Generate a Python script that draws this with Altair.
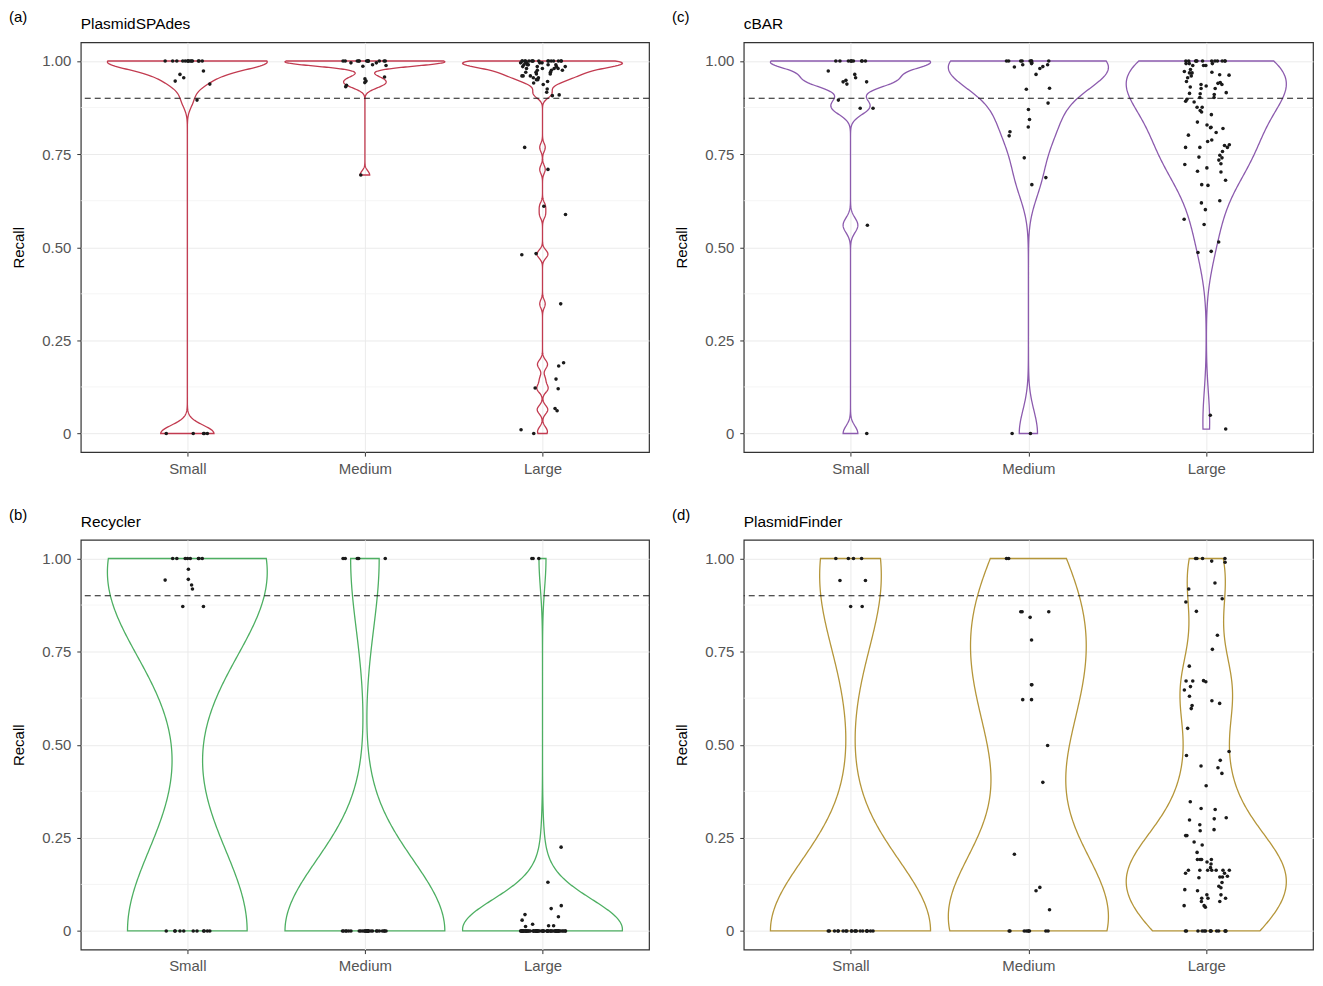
import altair as alt
import pandas as pd

FONT = "Liberation Sans"
SIZES = ["Small", "Medium", "Large"]
THRESHOLD = [0.9]
MAJOR = [0, 0.25, 0.5, 0.75, 1.0]
MINOR = [0.125, 0.375, 0.625, 0.875]

# ---- PlasmidSPAdes ----
spades_small = [1.0, 1.0, 1.0, 1.0, 1.0, 1.0, 1.0, 1.0, 1.0, 1.0, 1.0, 1.0, 1.0, 1.0,
                0.973, 0.964, 0.955, 0.946, 0.938, 0.895,
                0.0, 0.0, 0.0, 0.0, 0.0]
spades_medium = [1.0, 1.0, 1.0, 1.0, 1.0, 1.0, 1.0, 1.0, 1.0, 1.0, 1.0, 1.0, 1.0,
                 0.995, 0.995, 0.99, 0.988, 0.986,
                 0.957, 0.952, 0.946, 0.942, 0.935, 0.931, 0.694]
spades_large = [1.0, 1.0, 1.0, 1.0, 1.0, 1.0, 1.0, 1.0, 1.0, 1.0, 1.0, 1.0, 1.0, 1.0, 1.0, 1.0,
                0.995, 0.995, 0.995, 0.995, 0.995, 0.99, 0.99, 0.99, 0.99, 0.99,
                0.985, 0.985, 0.985, 0.985, 0.98, 0.98, 0.98, 0.98,
                0.975, 0.975, 0.975, 0.97, 0.97, 0.97, 0.965, 0.965,
                0.96, 0.96, 0.96, 0.955, 0.955, 0.95, 0.95,
                0.945, 0.941, 0.937, 0.925, 0.916, 0.909, 0.907,
                0.768, 0.709, 0.610, 0.588, 0.483, 0.480, 0.348, 0.190, 0.181,
                0.146, 0.122, 0.120, 0.067, 0.061, 0.010, 0.0]

# ---- cBAR ----
cbar_small = [1.0, 1.0, 1.0, 1.0, 1.0, 1.0, 1.0, 1.0, 1.0, 1.0,
              0.973, 0.964, 0.955, 0.948, 0.944, 0.944, 0.938, 0.895, 0.873, 0.873,
              0.559, 0.0]
cbar_medium = [1.0, 1.0, 1.0, 1.0, 1.0, 1.0, 1.0, 1.0,
               0.995, 0.993, 0.99, 0.99, 0.985, 0.984, 0.98, 0.964,
               0.927, 0.924, 0.887, 0.870, 0.843, 0.823, 0.810, 0.799,
               0.740, 0.687, 0.668, 0.0, 0.0]
cbar_large = [1.0, 1.0, 1.0, 1.0, 1.0, 1.0, 1.0, 1.0, 1.0, 1.0, 1.0, 1.0,
              0.993, 0.993, 0.993, 0.988, 0.988, 0.988,
              0.977, 0.972, 0.968, 0.970, 0.963, 0.968, 0.960, 0.955, 0.962,
              0.945, 0.942, 0.937, 0.940, 0.937, 0.933, 0.930,
              0.926, 0.926, 0.915, 0.913, 0.910, 0.902, 0.912, 0.902,
              0.897, 0.892, 0.890, 0.876, 0.876, 0.867,
              0.863, 0.856, 0.836, 0.828, 0.822, 0.821, 0.819, 0.808, 0.801,
              0.788, 0.784, 0.775, 0.768, 0.768, 0.773, 0.768, 0.757,
              0.747, 0.742, 0.740, 0.734, 0.724, 0.722, 0.704, 0.713, 0.702,
              0.680, 0.668, 0.666, 0.625, 0.619, 0.601, 0.575, 0.561,
              0.514, 0.489, 0.486, 0.049, 0.012]

# ---- Recycler ----
recycler_small = [1.0, 1.0, 1.0, 1.0, 1.0, 1.0, 1.0, 1.0,
                  0.971, 0.944, 0.942, 0.929, 0.918, 0.871, 0.871,
                  0.0, 0.0, 0.0, 0.0, 0.0, 0.0, 0.0, 0.0, 0.0, 0.0, 0.0]
recycler_medium = [1.0, 1.0, 1.0, 1.0, 1.0,
                   0.0, 0.0, 0.0, 0.0, 0.0, 0.0, 0.0, 0.0, 0.0, 0.0,
                   0.0, 0.0, 0.0, 0.0, 0.0, 0.0, 0.0, 0.0, 0.0, 0.0,
                   0.0, 0.0, 0.0, 0.0, 0.0, 0.0, 0.0, 0.0]
recycler_large = [1.0, 1.0, 1.0, 0.225, 0.131, 0.068, 0.060, 0.044, 0.038, 0.029,
                  0.018, 0.014, 0.014, 0.012,
                  0.0, 0.0, 0.0, 0.0, 0.0, 0.0, 0.0, 0.0, 0.0, 0.0,
                  0.0, 0.0, 0.0, 0.0, 0.0, 0.0, 0.0, 0.0, 0.0, 0.0,
                  0.0, 0.0, 0.0, 0.0, 0.0, 0.0, 0.0, 0.0, 0.0, 0.0,
                  0.0, 0.0, 0.0, 0.0, 0.0, 0.0, 0.0, 0.0, 0.0, 0.0,
                  0.0, 0.0, 0.0, 0.0, 0.0, 0.0, 0.0, 0.0, 0.0, 0.0,
                  0.0, 0.0, 0.0, 0.0, 0.0, 0.0, 0.0, 0.0, 0.0, 0.0]

# ---- PlasmidFinder ----
finder_small = [1.0, 1.0, 1.0, 1.0, 0.941, 0.941, 0.871, 0.871,
                0.0, 0.0, 0.0, 0.0, 0.0, 0.0, 0.0, 0.0, 0.0, 0.0,
                0.0, 0.0, 0.0, 0.0, 0.0, 0.0, 0.0, 0.0, 0.0, 0.0]
finder_medium = [1.0, 1.0, 0.857, 0.857, 0.857, 0.842, 0.781, 0.661, 0.661,
                 0.621, 0.621, 0.498, 0.399, 0.206, 0.117, 0.108, 0.057,
                 0.0, 0.0, 0.0, 0.0, 0.0, 0.0, 0.0, 0.0, 0.0]
finder_large = [1.0, 1.0, 1.0, 1.0, 0.993, 0.99, 0.934, 0.918, 0.892, 0.883,
                0.858, 0.794, 0.756, 0.711, 0.671, 0.671, 0.669, 0.672, 0.656,
                0.647, 0.630, 0.618, 0.611, 0.605, 0.597,
                0.544, 0.482, 0.471, 0.458, 0.443, 0.438, 0.423, 0.390,
                0.347, 0.329, 0.326, 0.304, 0.298, 0.301, 0.285, 0.269, 0.272,
                0.256, 0.256, 0.239, 0.231, 0.211,
                0.192, 0.192, 0.192, 0.192, 0.185, 0.180, 0.170,
                0.163, 0.163, 0.163, 0.163, 0.163, 0.163, 0.163, 0.155, 0.155,
                0.147, 0.145, 0.145, 0.143, 0.130, 0.120,
                0.116, 0.111, 0.108, 0.097, 0.097, 0.088, 0.088, 0.088, 0.079, 0.079,
                0.064, 0.068, 0.068,
                0.0, 0.0, 0.0, 0.0, 0.0, 0.0, 0.0, 0.0, 0.0, 0.0, 0.0, 0.0, 0.0, 0.0]

# kernel bandwidths per violin (Small, Medium, Large)
bw_spades = [0.022, 0.011, 0.011]
bw_cbar = [0.02, 0.062, 0.08]
bw_recycler = [0.227, 0.19, 0.08]
bw_finder = [0.19, 0.18, 0.097]

COL_SPADES = "#C23B50"
COL_CBAR = "#8C5BAE"
COL_RECYCLER = "#4DAF62"
COL_FINDER = "#B5963A"

xscale = alt.Scale(domain=[0.4, 3.6], nice=False, zero=False)
yscale = alt.Scale(domain=[-0.05, 1.05], nice=False, zero=False)

label_expr_x = "['', '%s', '%s', '%s'][datum.value]" % tuple(SIZES)
xaxis = alt.Axis(values=[1, 2, 3], labelExpr=label_expr_x, title=None, grid=True,
                 gridColor="#ebebeb", gridWidth=1, domain=False, ticks=True,
                 tickColor="#333333", tickSize=4, tickWidth=1, labelColor="#555555",
                 labelFontSize=15, labelFont=FONT, labelPadding=5)
yaxis = alt.Axis(values=MAJOR, labelExpr="datum.value == 0 ? '0' : format(datum.value, '.2f')",
                 title="Recall", grid=True, gridColor="#ebebeb", gridWidth=1, domain=False,
                 ticks=True, tickColor="#333333", tickSize=4, tickWidth=1,
                 labelColor="#555555", labelFontSize=15, labelFont=FONT, labelPadding=6,
                 titleFont=FONT, titleFontSize=15, titleFontWeight="normal",
                 titleColor="black", titlePadding=15)


def make_panel(letter, title, color, series, bws, width, height):
    rows = []
    for gi, (name, vals) in enumerate(zip(SIZES, series), start=1):
        for i, v in enumerate(vals):
            rows.append({"size": name, "pos": gi, "value": v, "i": i})
    df = pd.DataFrame(rows)
    base = alt.Chart(df)

    minor = alt.Chart(pd.DataFrame({"y": MINOR})).mark_rule(
        color="#f0f0f0", strokeWidth=0.7
    ).encode(y=alt.Y("y:Q", scale=yscale, axis=yaxis))

    violins = []
    for gi, (vals, bw) in enumerate(zip(series, bws), start=1):
        v = base.transform_filter(alt.datum.pos == gi).transform_density(
            "value", as_=["value", "density"], bandwidth=bw,
            extent=[min(vals), max(vals)], steps=512
        ).transform_joinaggregate(maxd="max(density)").transform_calculate(
            xl=f"{gi} - 0.45 * datum.density / datum.maxd",
            xr=f"{gi} + 0.45 * datum.density / datum.maxd",
        ).mark_area(orient="horizontal", fillOpacity=0, stroke=color, strokeWidth=1.3).encode(
            y=alt.Y("value:Q", scale=yscale, axis=yaxis),
            x=alt.X("xl:Q", scale=xscale, axis=xaxis),
            x2="xr:Q",
        )
        violins.append(v)

    dashed = alt.Chart(pd.DataFrame({"y": THRESHOLD})).mark_rule(
        color="#1a1a1a", strokeDash=[6, 4], strokeWidth=1.2
    ).encode(y=alt.Y("y:Q", scale=yscale, axis=yaxis))

    pts = base.transform_calculate(
        h="sin(datum.i * 12.9898 + datum.pos * 78.233) * 43758.5453"
    ).transform_calculate(
        jx="datum.pos + (datum.h - floor(datum.h) - 0.5) * 0.26"
    ).mark_circle(size=13, color="#1a1a1a", opacity=1).encode(
        x=alt.X("jx:Q", scale=xscale, axis=xaxis),
        y=alt.Y("value:Q", scale=yscale, axis=yaxis),
    )

    tag = alt.Chart(pd.DataFrame({"t": [letter]})).mark_text(
        align="left", baseline="middle", fontSize=15, font=FONT, color="black"
    ).encode(text="t:N", x=alt.value(-72), y=alt.value(-25))

    name = alt.Chart(pd.DataFrame({"t": [title]})).mark_text(
        align="left", baseline="middle", fontSize=15.5, font=FONT, color="black"
    ).encode(text="t:N", x=alt.value(0), y=alt.value(-18))

    return alt.layer(minor, *violins, dashed, pts, tag, name).properties(
        width=width, height=height
    )


pa = make_panel("(a)", "PlasmidSPAdes", COL_SPADES,
                [spades_small, spades_medium, spades_large], bw_spades, 570, 411)
pc = make_panel("(c)", "cBAR", COL_CBAR,
                [cbar_small, cbar_medium, cbar_large], bw_cbar, 571, 411)
pb = make_panel("(b)", "Recycler", COL_RECYCLER,
                [recycler_small, recycler_medium, recycler_large], bw_recycler, 570, 411)
pd_ = make_panel("(d)", "PlasmidFinder", COL_FINDER,
                 [finder_small, finder_medium, finder_large], bw_finder, 571, 411)

top = alt.hconcat(pa, pc, spacing=20)
bottom = alt.hconcat(pb, pd_, spacing=20)
chart = alt.vconcat(top, bottom, spacing=30).properties(padding=0).configure(
    font=FONT
).configure_view(stroke="#333333", strokeWidth=1.2)

chart.save("out.html", embed_options={"renderer": "svg", "actions": False})
